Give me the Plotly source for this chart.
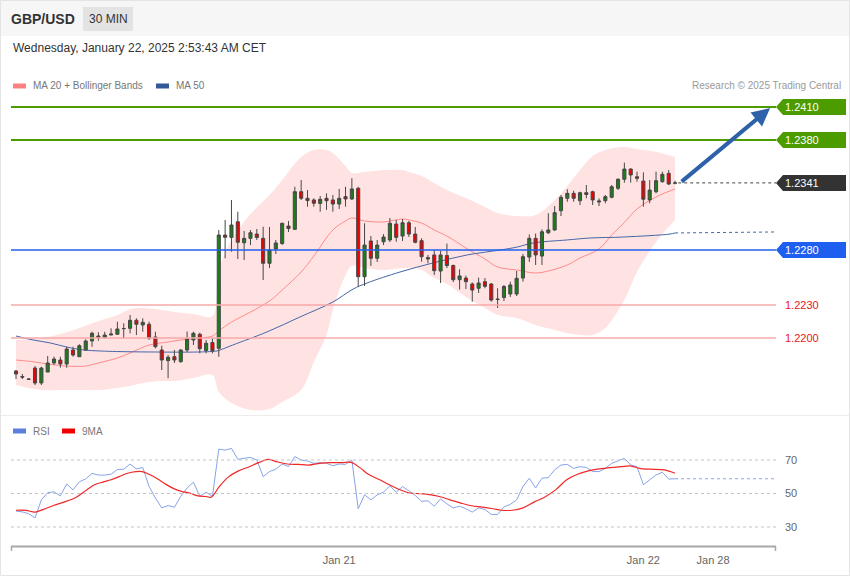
import plotly.graph_objects as go

# ---------------- data ----------------
candle_idx = list(range(105))
open_ = [1.21700,1.21650,1.21627,1.21727,1.21591,1.21691,1.21773,1.21800,1.21764,1.21891,
         1.21830,1.21891,1.21973,1.22018,1.22006,1.22027,1.22034,1.22085,1.22088,1.22161,
         1.22118,1.22125,1.22009,1.21891,1.21794,1.21830,1.21785,1.21891,1.21982,1.22034,
         1.21886,1.21959,1.21906,1.22936,1.22915,1.23057,1.22866,1.22906,1.22945,1.22906,
         1.22679,1.22809,1.22859,1.23018,1.22988,1.23330,1.23270,1.23255,1.23223,1.23270,
         1.23255,1.23218,1.23285,1.23264,1.23361,1.22557,1.22882,1.22725,1.22875,1.22891,
         1.23036,1.22927,1.23048,1.22945,1.22885,1.22718,1.22755,1.22609,1.22750,1.22659,
         1.22530,1.22545,1.22491,1.22452,1.22512,1.22491,1.22355,1.22368,1.22400,1.22400,
         1.22545,1.22736,1.22906,1.22745,1.22957,1.22982,1.23157,1.23270,1.23315,1.23248,
         1.23321,1.23330,1.23236,1.23248,1.23279,1.23361,1.23443,1.23536,1.23466,1.23427,
         1.23255,1.23330,1.23421,1.23497,1.23407]
high = [1.21709,1.21673,1.21632,1.21745,1.21739,1.21836,1.21830,1.21830,1.21921,1.21921,
        1.21943,1.21988,1.22057,1.22052,1.22057,1.22088,1.22148,1.22134,1.22209,1.22179,
        1.22179,1.22148,1.22057,1.21930,1.21845,1.21891,1.21897,1.22059,1.22057,1.22048,
        1.21982,1.21997,1.22982,1.23073,1.23255,1.23148,1.22973,1.22982,1.22991,1.23012,
        1.23009,1.22891,1.23048,1.23064,1.23375,1.23436,1.23345,1.23270,1.23291,1.23315,
        1.23300,1.23355,1.23375,1.23452,1.23375,1.23043,1.22927,1.22891,1.22945,1.23091,
        1.23073,1.23082,1.23064,1.23009,1.22906,1.22755,1.22800,1.22791,1.22859,1.22668,
        1.22625,1.22568,1.22505,1.22550,1.22545,1.22500,1.22452,1.22482,1.22512,1.22609,
        1.22764,1.22941,1.22950,1.22988,1.23134,1.23200,1.23300,1.23352,1.23339,1.23330,
        1.23391,1.23339,1.23270,1.23300,1.23391,1.23452,1.23594,1.23543,1.23512,1.23506,
        1.23436,1.23512,1.23512,1.23527,1.23430]
low = [1.21627,1.21627,1.21623,1.21573,1.21573,1.21688,1.21755,1.21730,1.21730,1.21830,
       1.21827,1.21888,1.21921,1.21975,1.21997,1.22025,1.22031,1.21997,1.22043,1.22027,
       1.22057,1.21982,1.21906,1.21709,1.21634,1.21773,1.21775,1.21873,1.21936,1.21861,
       1.21861,1.21861,1.21830,1.22725,1.22785,1.22718,1.22709,1.22845,1.22891,1.22527,
       1.22636,1.22764,1.22845,1.22964,1.22982,1.23255,1.23194,1.23194,1.23148,1.23164,
       1.23148,1.23173,1.23194,1.23255,1.22466,1.22473,1.22655,1.22691,1.22845,1.22873,
       1.22875,1.22882,1.22918,1.22861,1.22694,1.22679,1.22573,1.22500,1.22636,1.22509,
       1.22441,1.22445,1.22330,1.22409,1.22452,1.22330,1.22273,1.22336,1.22373,1.22382,
       1.22512,1.22691,1.22664,1.22664,1.22945,1.22975,1.23109,1.23239,1.23239,1.23209,
       1.23270,1.23209,1.23200,1.23225,1.23270,1.23345,1.23412,1.23412,1.23421,1.23194,
       1.23225,1.23315,1.23412,1.23391,1.23397]
close = [1.21673,1.21645,1.21625,1.21591,1.21727,1.21773,1.21809,1.21764,1.21900,1.21845,
         1.21930,1.21973,1.22043,1.22006,1.22027,1.22036,1.22082,1.22086,1.22161,1.22125,
         1.22143,1.21997,1.21921,1.21800,1.21825,1.21800,1.21891,1.21991,1.22043,1.21903,
         1.21952,1.21884,1.22936,1.22915,1.23027,1.22870,1.22906,1.22957,1.22914,1.22679,
         1.22800,1.22864,1.23043,1.22995,1.23330,1.23270,1.23250,1.23225,1.23261,1.23248,
         1.23218,1.23270,1.23264,1.23355,1.22557,1.22845,1.22725,1.22845,1.22918,1.23043,
         1.22915,1.23048,1.22945,1.22870,1.22739,1.22730,1.22612,1.22755,1.22659,1.22530,
         1.22564,1.22512,1.22436,1.22500,1.22470,1.22345,1.22350,1.22468,1.22482,1.22543,
         1.22739,1.22906,1.22755,1.22966,1.22982,1.23139,1.23279,1.23315,1.23270,1.23321,
         1.23305,1.23255,1.23245,1.23285,1.23375,1.23443,1.23536,1.23482,1.23452,1.23261,
         1.23345,1.23430,1.23488,1.23400,1.23410]

ma20_idx = [0,3,5,8,11,13,16,18,21,24,26,29,31,32,34,37,40,42,45,47,50,52,53,55,58,61,62,64,
            66,68,71,74,76,79,82,84,87,89,92,94,96,98,101,104]
ma20_val = [1.21800,1.21782,1.21764,1.21745,1.21745,1.21773,1.21818,1.21864,1.21936,1.21964,
            1.21982,1.22000,1.22018,1.22064,1.22145,1.22236,1.22336,1.22436,1.22600,1.22745,
            1.22982,1.23064,1.23091,1.23064,1.23055,1.23082,1.23073,1.23045,1.22982,1.22927,
            1.22818,1.22718,1.22645,1.22618,1.22591,1.22609,1.22664,1.22727,1.22809,1.22936,
            1.23050,1.23173,1.23282,1.23355]

bb_idx = [0,4,7,10,13,16,18,20,23,25,28,31,32,34,37,40,42,45,47,49,50,52,53,55,58,61,62,64,
          66,68,71,74,76,79,82,85,87,89,91,93,96,98,101,104]
bb_upper = [1.21982,1.22000,1.22036,1.22091,1.22155,1.22209,1.22264,1.22273,1.22255,1.22236,
            1.22218,1.22200,1.22618,1.22891,1.23127,1.23300,1.23436,1.23645,1.23709,1.23709,
            1.23682,1.23564,1.23500,1.23509,1.23527,1.23527,1.23509,1.23473,1.23409,1.23345,
            1.23273,1.23191,1.23136,1.23109,1.23118,1.23255,1.23382,1.23527,1.23655,1.23709,
            1.23736,1.23718,1.23691,1.23645]
bb_lower = [1.21573,1.21527,1.21527,1.21527,1.21527,1.21545,1.21564,1.21591,1.21609,1.21609,
            1.21636,1.21664,1.21509,1.21409,1.21345,1.21355,1.21418,1.21527,1.21782,1.22027,
            1.22255,1.22573,1.22655,1.22636,1.22618,1.22636,1.22636,1.22618,1.22545,1.22491,
            1.22373,1.22273,1.22209,1.22182,1.22118,1.22073,1.22045,1.22027,1.22027,1.22091,
            1.22345,1.22600,1.22873,1.23073]

ma50_idx = [0,2.7,5.4,8,10.6,13.3,15.9,21.1,29,31.7,32.2,34.2,39.6,44.8,50,53.2,55.4,60.6,
            65.8,71.2,76.4,79.1,81.6,86.9,90.6,95.8,103.2,104]
ma50_val = [1.22018,1.21982,1.21955,1.21918,1.21891,1.21882,1.21877,1.21873,1.21873,1.21882,
            1.21891,1.21936,1.22055,1.22191,1.22327,1.22445,1.22500,1.22600,1.22682,1.22755,
            1.22800,1.22827,1.22864,1.22891,1.22909,1.22918,1.22945,1.22955]
ma50_proj = 1.22964

rsi = [39.5,39,38,35.4,46.2,50.5,51,48.6,55.7,52.2,
       57,58.7,62,61,61,61.5,64.3,64.5,67.6,64.7,
       65.5,54.2,47.3,41.4,42.8,41.8,48.3,53.3,56.8,48.3,
       50.8,48.3,76.5,75.9,76.9,70.4,71,71.6,70,60.1,
       63.1,64.5,67.6,66.1,72,70,69.4,68,68.4,68,
       66.6,67.6,67.4,70,40.9,49.2,46.2,49.2,50.8,54.6,
       50.8,54.2,51.6,48.8,45.3,45.7,42.4,46.8,43.8,41.4,
       42.4,40.9,38.9,41.4,40.5,37.5,37.5,42,43.5,46.2,
       54.2,59.1,53.3,59.1,59.5,64.1,67,67.4,65,66,
       65.6,63.1,63.1,65,68,69.5,71,67,66,55.2,
       58.2,61.1,62.7,58.6,58.8]
rsi_ma_idx = [0,1.6,3,4.3,6,7.7,9.5,11.2,12.4,13.7,15,16.3,17.6,18.9,19.9,21,22.3,23.6,24.9,26.1,
              27.4,28.7,30,30.8,32.1,33.4,35.1,36.8,38.4,39.8,41.1,42.8,44.5,46.2,47.9,49.7,51.4,
              52.9,54.4,55.6,57.4,58.9,60.3,62.1,63.8,65.5,66.8,68.5,70.2,71.9,73.6,75.3,76.6,
              78.3,80,81.8,83.4,85.2,86.9,88.6,90.3,92,93.7,95.4,97.1,98.4,100.1,102.3,104]
rsi_ma_val = [40,39.9,38.9,40.5,43,45,47.8,52.3,55.2,56.8,58.2,60.1,62.1,63.1,63.1,61.5,58.8,55.6,
              52.9,51.3,50.3,48.6,48.2,47.8,54.2,59.5,63.5,66,68.6,70.4,69,67.6,67.4,67,68,68.4,
              68.4,68.6,65,61.5,58.2,55.2,52.7,50.3,49.9,49.2,48.2,46.2,44.3,42.7,41.9,40.9,40,
              40,41.4,45,47.8,52.3,58.2,61.5,63.5,64.7,65.5,66,66.4,65,64.5,64.1,62.1]

tick_idx = [51, 99, 110]
tick_text = ["Jan 21", "Jan 22", "Jan 28"]
rsi_levels = [70, 50, 30]

box_levels = [1.2410, 1.2380, 1.2341, 1.2280]
box_colors = ["#4c9c00", "#4c9c00", "#333333", "#1f5ff0"]
red_levels = [1.2230, 1.2200]
last_price = 1.2341
target = 1.2410

# ---------------- geometry ----------------
W, H = 850, 576
PL, PR, PT, PB = 11, 776, 95, 546
X_RANGE = [-0.79, 119.93]
Y_RANGE = [1.2131818, 1.2420909]
R_RANGE = [18.66, 81.94]


def px(X):
    return (X - PL) / (PR - PL)


def py(Y):
    return (PB - Y) / (PB - PT)


FONT = "Liberation Sans, Arial, sans-serif"

fig = go.Figure()

# Bollinger band fill (base price axis, drawn below the candles)
fig.add_trace(go.Scatter(x=bb_idx, y=bb_upper, mode="lines", line=dict(width=0, shape="spline"),
                         hoverinfo="skip", showlegend=False))
fig.add_trace(go.Scatter(x=bb_idx, y=bb_lower, mode="lines", line=dict(width=0, shape="spline"),
                         fill="tonexty", fillcolor="#ffe3e3", hoverinfo="skip", showlegend=False))
# MA20 & MA50
fig.add_trace(go.Scatter(x=ma20_idx, y=ma20_val, mode="lines",
                         line=dict(color="#ff8a8a", width=1, shape="spline"), showlegend=False))
fig.add_trace(go.Scatter(x=ma50_idx, y=ma50_val, mode="lines",
                         line=dict(color="#4467a8", width=1, shape="spline"), showlegend=False))
fig.add_trace(go.Scatter(x=[ma50_idx[-1], X_RANGE[1]], y=[ma50_val[-1], ma50_proj], mode="lines",
                         line=dict(color="#4467a8", width=1, dash="dot"), showlegend=False))

# candles on an overlaying axis so they sit above the band fill
fig.add_trace(go.Candlestick(
    x=candle_idx, open=open_, high=high, low=low, close=close, yaxis="y3",
    increasing=dict(fillcolor="#1b7d1b", line=dict(color="#474747", width=1)),
    decreasing=dict(fillcolor="#f00000", line=dict(color="#474747", width=1)),
    whiskerwidth=0, showlegend=False, hoverinfo="skip"))

# RSI
fig.add_trace(go.Scatter(x=candle_idx, y=rsi, mode="lines", yaxis="y2",
                         line=dict(color="#86a3ea", width=1), showlegend=False))
fig.add_trace(go.Scatter(x=[candle_idx[-1], X_RANGE[1] - 0.3], y=[rsi[-1], rsi[-1]], mode="lines",
                         yaxis="y2", line=dict(color="#86a3ea", width=1, dash="dot"), showlegend=False))
fig.add_trace(go.Scatter(x=rsi_ma_idx, y=rsi_ma_val, mode="lines", yaxis="y2",
                         line=dict(color="#f02828", width=1.2, shape="spline"), showlegend=False))

shapes = []
annotations = []
TXT_PAD = 2  # annotation inner padding (borderpad + borderwidth)

# header background & box
shapes.append(dict(type="rect", xref="paper", yref="paper", x0=px(0), x1=px(850), y0=py(36), y1=py(0),
                   fillcolor="#f6f6f6", line=dict(width=0), layer="below"))
shapes.append(dict(type="rect", xref="paper", yref="paper", x0=px(83), x1=px(133), y0=py(31), y1=py(7),
                   fillcolor="#e3e3e3", line=dict(width=0), layer="below"))
# separator and border
shapes.append(dict(type="line", xref="paper", yref="paper", x0=px(0), x1=px(850), y0=py(415.5), y1=py(415.5),
                   line=dict(color="#ececec", width=1)))
shapes.append(dict(type="rect", xref="paper", yref="paper", x0=px(0.5), x1=px(849.5), y0=py(575.5), y1=py(0.5),
                   line=dict(color="#e4e4e4", width=1)))

# level lines
line_styles = {1.2410: ("#4c9c00", 2), 1.2380: ("#4c9c00", 2), 1.2280: ("#1f5ff0", 1.4),
               1.2230: ("#f7a8a8", 1.5), 1.2200: ("#f7a8a8", 1.5)}
for lv, (col, w) in line_styles.items():
    shapes.append(dict(type="line", xref="paper", yref="y", x0=0, x1=1, y0=lv, y1=lv,
                       line=dict(color=col, width=w)))
# last price dotted line
shapes.append(dict(type="line", xref="x", yref="y", x0=104.5, x1=X_RANGE[1], y0=last_price, y1=last_price,
                   line=dict(color="#444444", width=1, dash="dot")))

# price label boxes
hh = 8 / 11000.0
for lv, col in zip(box_levels, box_colors):
    x0, x1, xt = px(776), px(846), px(783)
    path = (f"M {x0},{lv} L {xt},{lv + hh} L {x1},{lv + hh} L {x1},{lv - hh} "
            f"L {xt},{lv - hh} Z")
    shapes.append(dict(type="path", xref="paper", yref="y", path=path, fillcolor=col,
                       line=dict(width=0)))
    annotations.append(dict(x=px(785 - TXT_PAD), y=lv, xref="paper", yref="y", text=f"{lv:.4f}",
                            showarrow=False, xanchor="left", yanchor="middle",
                            font=dict(family=FONT, size=11, color="white")))
for lv in red_levels:
    annotations.append(dict(x=px(785 - TXT_PAD), y=lv, xref="paper", yref="y", text=f"{lv:.4f}",
                            showarrow=False, xanchor="left", yanchor="middle",
                            font=dict(family=FONT, size=11, color="#e8161b")))

# RSI dotted grid + labels
for lv in rsi_levels:
    shapes.append(dict(type="line", xref="paper", yref="y2", x0=0, x1=1, y0=lv, y1=lv,
                       line=dict(color="#c4c4c4", width=1, dash="dot")))
    annotations.append(dict(x=px(785 - TXT_PAD), y=lv, xref="paper", yref="y2", text=str(lv),
                            showarrow=False, xanchor="left", yanchor="middle",
                            font=dict(family=FONT, size=11, color="#666666")))

# x axis line with end caps
shapes.append(dict(type="line", xref="paper", yref="paper", x0=0, x1=1, y0=py(546.5), y1=py(546.5),
                   line=dict(color="#a8a8a8", width=2)))
for xx in (11.5, 775.5):
    shapes.append(dict(type="line", xref="paper", yref="paper", x0=px(xx), x1=px(xx), y0=py(546), y1=py(551),
                       line=dict(color="#a8a8a8", width=1.5)))

# arrow
annotations.append(dict(x=119.0, y=target - 1 / 11000.0, ax=104.8, ay=last_price,
                        xref="x", yref="y", axref="x", ayref="y", text="", showarrow=True,
                        arrowhead=2, arrowsize=0.9, arrowwidth=4, arrowcolor="#2e62a8"))

# header texts
annotations.append(dict(x=px(11 - TXT_PAD), y=py(19), xref="paper", yref="paper", text="<b>GBP/USD</b>",
                        showarrow=False, xanchor="left", yanchor="middle",
                        font=dict(family=FONT, size=14, color="#333333")))
annotations.append(dict(x=px(108), y=py(19), xref="paper", yref="paper", text="30 MIN",
                        showarrow=False, xanchor="center", yanchor="middle",
                        font=dict(family=FONT, size=12, color="#333333")))
annotations.append(dict(x=px(13 - TXT_PAD), y=py(48), xref="paper", yref="paper",
                        text="Wednesday, January 22, 2025 2:53:43 AM CET",
                        showarrow=False, xanchor="left", yanchor="middle",
                        font=dict(family=FONT, size=12, color="#333333")))


def legend_item(x_sw, y, color, label):
    shapes.append(dict(type="rect", xref="paper", yref="paper", x0=px(x_sw), x1=px(x_sw + 13),
                       y0=py(y + 2.5), y1=py(y - 2.5), fillcolor=color, line=dict(width=0)))
    annotations.append(dict(x=px(x_sw + 20 - TXT_PAD), y=py(y), xref="paper", yref="paper", text=label,
                            showarrow=False, xanchor="left", yanchor="middle",
                            font=dict(family=FONT, size=10, color="#777777")))


legend_item(13, 86, "#ff8080", "MA 20 + Bollinger Bands")
legend_item(156, 86, "#34599a", "MA 50")
legend_item(13, 431, "#5b7fdd", "RSI")
legend_item(62, 431, "#ee0000", "9MA")
annotations.append(dict(x=px(841 + TXT_PAD), y=py(86), xref="paper", yref="paper",
                        text="Research © 2025 Trading Central", showarrow=False,
                        xanchor="right", yanchor="middle",
                        font=dict(family=FONT, size=10, color="#9a9a9a")))

fig.update_layout(
    width=W, height=H,
    margin=dict(l=PL, r=W - PR, t=PT, b=H - PB, pad=0),
    paper_bgcolor="white", plot_bgcolor="rgba(0,0,0,0)",
    showlegend=False, hovermode=False,
    font=dict(family=FONT),
    xaxis=dict(domain=[0, 1], range=X_RANGE, anchor="y2", showgrid=False, zeroline=False,
               showline=False, tickvals=tick_idx, ticktext=tick_text,
               tickfont=dict(family=FONT, size=11, color="#666666"),
               ticks="outside", ticklen=4, tickcolor="rgba(0,0,0,0)",
               rangeslider=dict(visible=False), fixedrange=True),
    yaxis=dict(domain=[py(413), 1], range=Y_RANGE, visible=False, fixedrange=True),
    yaxis3=dict(domain=[py(413), 1], range=Y_RANGE, visible=False, fixedrange=True,
                overlaying="y", anchor="x"),
    yaxis2=dict(domain=[0, py(440)], range=R_RANGE, visible=False, fixedrange=True),
    shapes=shapes, annotations=annotations,
)

fig.write_html("out.html", config={"displayModeBar": False, "staticPlot": True},
               post_script="document.body.style.margin='0';document.body.style.overflow='hidden';")
